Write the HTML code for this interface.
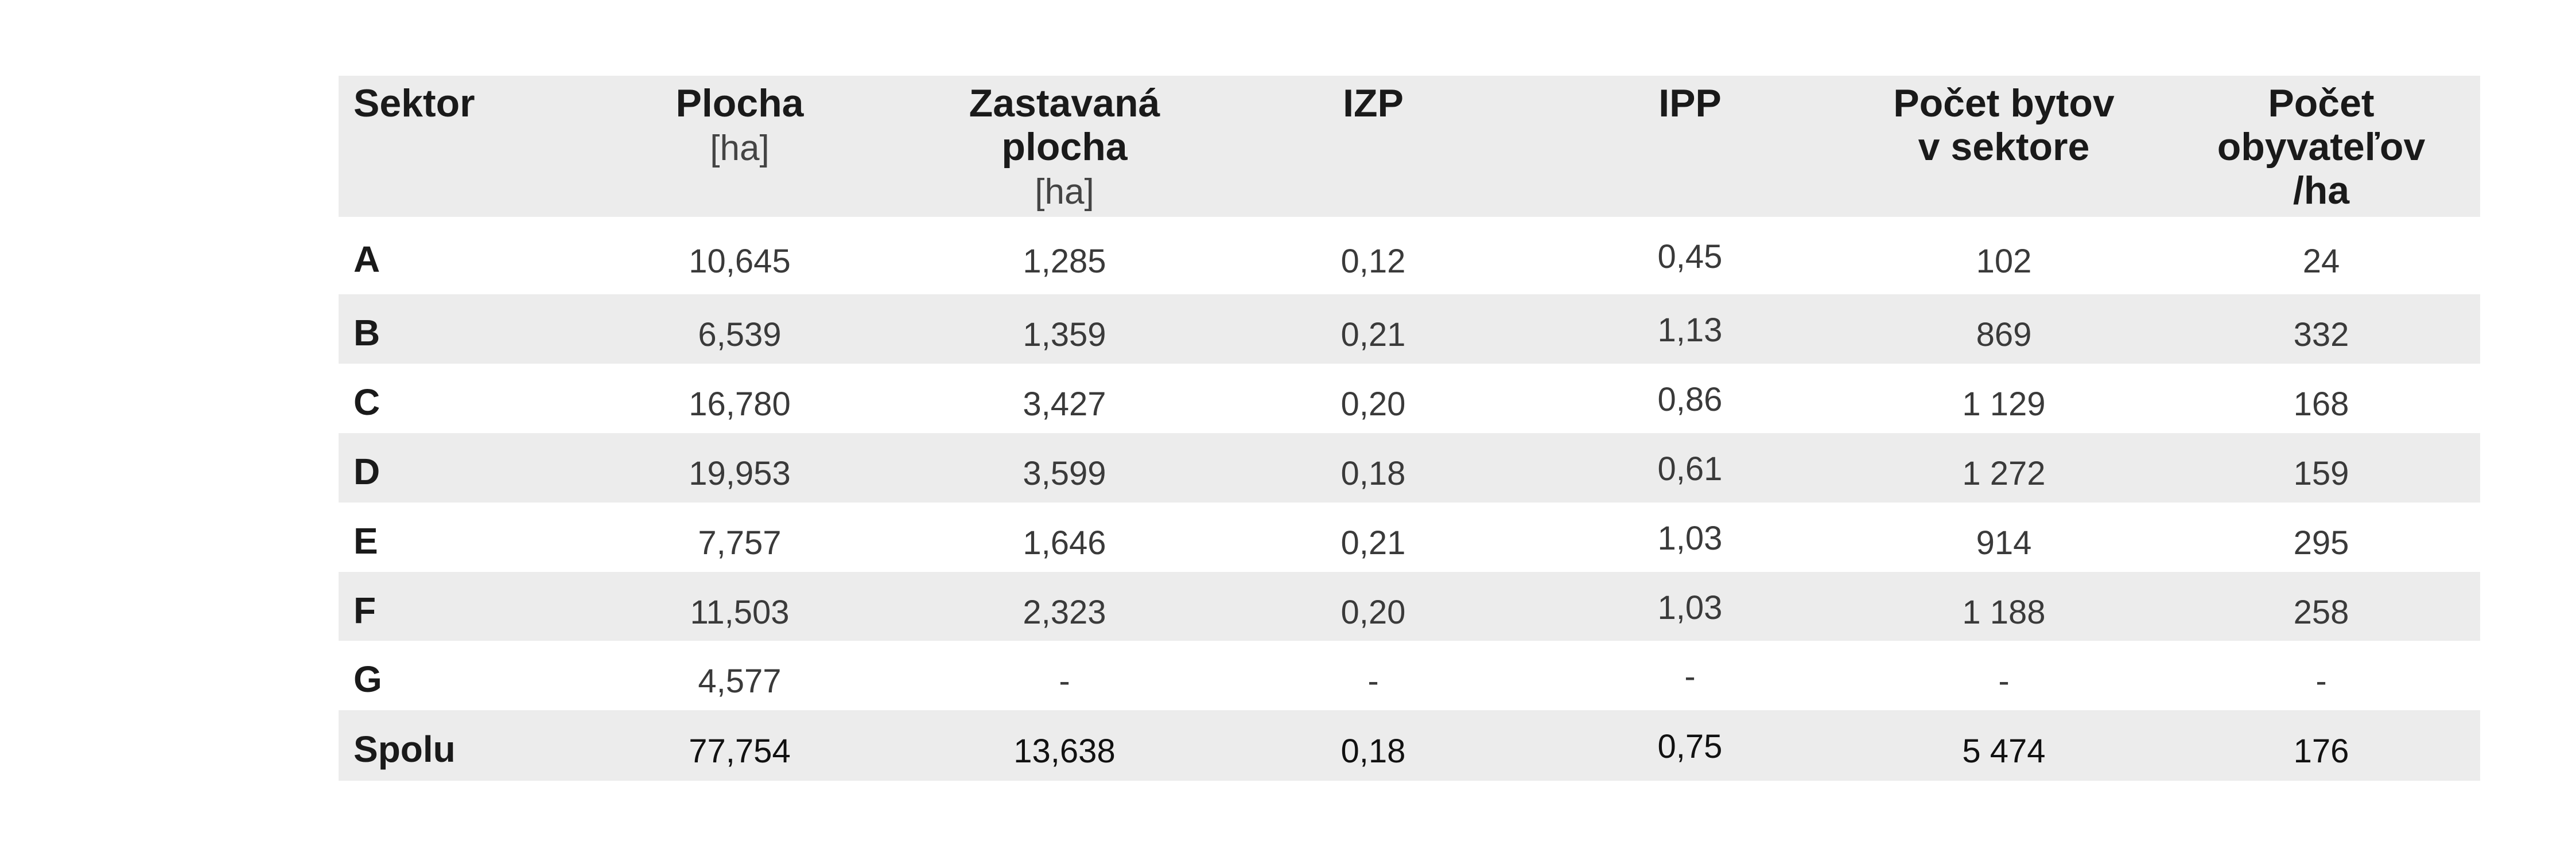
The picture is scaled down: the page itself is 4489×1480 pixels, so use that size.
<!DOCTYPE html>
<html><head><meta charset="utf-8">
<style>
html,body{margin:0;padding:0;background:#fff;}
body{width:4489px;height:1480px;position:relative;overflow:hidden;font-family:"Liberation Sans",sans-serif;color:#1a1a1a;}
.bg{position:absolute;left:590px;width:3732px;background:#ececec;}
.h{position:absolute;top:142px;line-height:76px;font-size:68px;font-weight:bold;text-align:center;width:700px;margin-left:-350px;}
.h span{font-weight:normal;font-size:62px;color:#444;}
.c{position:absolute;height:123px;line-height:123px;font-size:58px;text-align:center;width:600px;margin-left:-300px;color:#3a3a3a;}
.s{position:absolute;left:616px;height:123px;line-height:123px;font-size:64px;font-weight:bold;}
.b{color:#111;}
</style></head><body>
<div class="bg" style="top:132px;height:246px"></div>
<div class="bg" style="top:513px;height:121px"></div>
<div class="bg" style="top:755px;height:121px"></div>
<div class="bg" style="top:997px;height:120px"></div>
<div class="bg" style="top:1238px;height:123px"></div>

<div class="h" style="left:966px;text-align:left;">Sektor</div>
<div class="h" style="left:1289px">Plocha<br><span>[ha]</span></div>
<div class="h" style="left:1855px">Zastavaná<br>plocha<br><span>[ha]</span></div>
<div class="h" style="left:2393px">IZP</div>
<div class="h" style="left:2945px">IPP</div>
<div class="h" style="left:3492px">Počet bytov<br>v sektore</div>
<div class="h" style="left:4045px">Počet<br>obyvateľov<br>/ha</div>

<div id="rows"></div>
<script>
var data=[
["A","10,645","1,285","0,12","0,45","102","24"],
["B","6,539","1,359","0,21","1,13","869","332"],
["C","16,780","3,427","0,20","0,86","1 129","168"],
["D","19,953","3,599","0,18","0,61","1 272","159"],
["E","7,757","1,646","0,21","1,03","914","295"],
["F","11,503","2,323","0,20","1,03","1 188","258"],
["G","4,577","-","-","-","-","-"],
["Spolu","77,754","13,638","0,18","0,75","5 474","176"]];
var tops=[378,513,634,755,876,997,1117,1238];
var hs=[135,121,121,121,121,120,121,123];
var xs=[1289,1855,2393,2945,3492,4045];
var h="";
data.forEach(function(r,i){
 var t=tops[i]+hs[i]/2-61.5+10;
 var last=i==7?" b":"";
 h+='<div class="s" style="top:'+(t-3)+'px">'+r[0]+'</div>';
 for(var j=1;j<7;j++){
  var tt=t+(j==4?-8:0);
  h+='<div class="c'+last+'" style="top:'+tt+'px;left:'+xs[j-1]+'px">'+r[j]+'</div>';
 }
});
document.getElementById("rows").innerHTML=h;
</script>
</body></html>
